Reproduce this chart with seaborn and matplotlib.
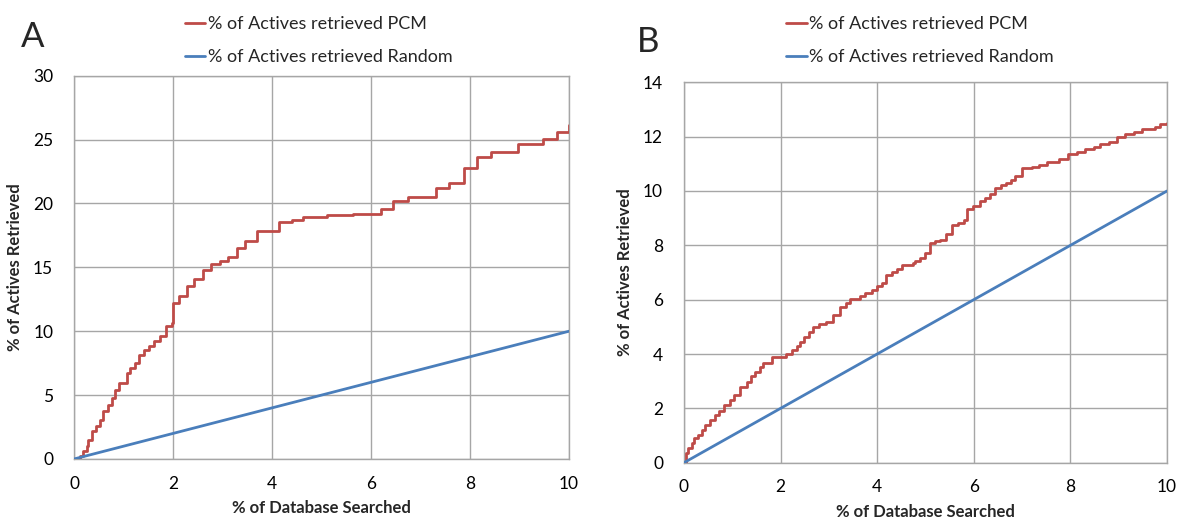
import numpy as np
import pandas as pd
import matplotlib
matplotlib.use("Agg")
import matplotlib.pyplot as plt
import seaborn as sns
from matplotlib.lines import Line2D

# ---- Data ----
a_pcm_x = [0, 0.12, 0.19, 0.26, 0.29, 0.36, 0.44, 0.53, 0.59, 0.69, 0.76, 0.83, 0.90,
           1.06, 1.13, 1.23, 1.32, 1.41, 1.52, 1.62, 1.74, 1.86, 1.97, 1.99, 2.13, 2.28,
           2.42, 2.60, 2.76, 2.95, 3.12, 3.29, 3.45, 3.69, 4.14, 4.40, 4.63, 5.12, 5.63,
           6.20, 6.45, 6.75, 7.31, 7.58, 7.87, 8.13, 8.42, 8.96, 9.47, 9.75, 10.0]
a_pcm_y = [0, 0.21, 0.60, 0.99, 1.51, 2.16, 2.55, 3.08, 3.73, 4.25, 4.77, 5.42, 5.94,
           6.72, 7.11, 7.51, 8.16, 8.55, 8.81, 9.20, 9.64, 10.37, 10.63, 12.20, 12.77, 13.55,
           14.10, 14.75, 15.27, 15.51, 15.79, 16.50, 17.02, 17.88, 18.53, 18.71, 18.90, 19.08, 19.18,
           19.57, 20.22, 20.54, 21.24, 21.58, 22.80, 23.61, 24.00, 24.65, 25.02, 25.57, 26.1]

b_pcm_x = [0, 0.04, 0.09, 0.16, 0.21, 0.30, 0.37, 0.44, 0.54, 0.64, 0.73, 0.83, 0.95,
           1.04, 1.15, 1.31, 1.38, 1.48, 1.57, 1.64, 1.82, 2.11, 2.23, 2.33, 2.40, 2.49,
           2.59, 2.68, 2.80, 2.94, 3.09, 3.23, 3.36, 3.43, 3.65, 3.75, 3.89, 3.99, 4.10,
           4.19, 4.30, 4.41, 4.51, 4.74, 4.79, 4.89, 4.99, 5.10, 5.20, 5.30, 5.43, 5.55,
           5.68, 5.79, 5.87, 5.99, 6.12, 6.24, 6.34, 6.44, 6.56, 6.67, 6.77, 6.86, 6.99,
           7.20, 7.34, 7.51, 7.76, 7.96, 8.14, 8.31, 8.48, 8.62, 8.79, 8.96, 9.14, 9.31,
           9.48, 9.76, 9.86, 10.0]
b_pcm_y = [0, 0.34, 0.53, 0.71, 0.90, 1.02, 1.20, 1.39, 1.57, 1.75, 1.91, 2.12, 2.31,
           2.49, 2.80, 2.98, 3.19, 3.35, 3.51, 3.66, 3.90, 4.00, 4.15, 4.29, 4.45, 4.64,
           4.82, 4.98, 5.10, 5.19, 5.44, 5.72, 5.87, 6.04, 6.13, 6.26, 6.36, 6.50, 6.60,
           6.91, 7.03, 7.13, 7.28, 7.34, 7.44, 7.52, 7.73, 8.07, 8.16, 8.20, 8.42, 8.75,
           8.81, 8.93, 9.33, 9.45, 9.63, 9.73, 9.89, 10.10, 10.23, 10.31, 10.40, 10.55, 10.83,
           10.90, 10.96, 11.08, 11.17, 11.36, 11.45, 11.53, 11.63, 11.73, 11.82, 12.00, 12.10, 12.18,
           12.27, 12.37, 12.45, 12.49]

random_x = [0, 10]
random_y = [0, 10]

x_ticks = [0, 2, 4, 6, 8, 10]
a_y_ticks = [0, 5, 10, 15, 20, 25, 30]
b_y_ticks = [0, 2, 4, 6, 8, 10, 12, 14]

pcm_label = "% of Actives retrieved PCM"
rand_label = "% of Actives retrieved Random"
x_label = "% of Database Searched"
y_label = "% of Actives Retrieved"

RED = "#BE4B48"
BLUE = "#4A7EBB"
GRID = "#A6A6A6"

sns.set_style("white")
plt.rcParams['font.family'] = ['Lato', 'DejaVu Sans']

fig = plt.figure(figsize=(11.77, 5.23), dpi=100)
axA = fig.add_axes([0.0629, 0.1224, 0.4206, 0.733])
axB = fig.add_axes([0.5811, 0.1153, 0.4104, 0.7273])


def draw(ax, px, py, yticks, ylim):
    dfp = pd.DataFrame({"x": px, "y": py})
    dfr = pd.DataFrame({"x": random_x, "y": random_y})
    sns.lineplot(data=dfp, x="x", y="y", ax=ax, color=RED, lw=2.0,
                 drawstyle="steps-post", sort=False, estimator=None, zorder=3)
    sns.lineplot(data=dfr, x="x", y="y", ax=ax, color=BLUE, lw=2.0,
                 sort=False, estimator=None, zorder=3)
    ax.set_xlim(0, 10)
    ax.set_ylim(*ylim)
    ax.set_xticks(x_ticks)
    ax.set_yticks(yticks)
    ax.grid(True, color=GRID, lw=1.0, zorder=0)
    ax.set_axisbelow(True)
    for s in ax.spines.values():
        s.set_color(GRID)
        s.set_linewidth(1.0)
    ax.tick_params(axis="both", which="both", direction="out", length=6,
                   color=GRID, labelsize=12.5, labelcolor="#000000")
    ax.tick_params(axis="y", pad=9)
    ax.tick_params(axis="x", pad=6)
    ax.set_xlabel(x_label, fontsize=12, fontweight="bold", labelpad=6)
    ax.set_ylabel(y_label, fontsize=12, fontweight="bold", labelpad=7)


draw(axA, a_pcm_x, a_pcm_y, a_y_ticks, (0, 30))
draw(axB, b_pcm_x, b_pcm_y, b_y_ticks, (0, 14))

# Legends (figure-level entries, one above each panel)
for xl in [0.143, 0.654]:
    handles = [Line2D([0], [0], color=RED, lw=2), Line2D([0], [0], color=BLUE, lw=2)]
    fig.legend(handles, [pcm_label, rand_label], loc="upper left",
               bbox_to_anchor=(xl, 1.0), frameon=False, fontsize=13,
               handlelength=1.15, handletextpad=0.15, labelspacing=0.95)

fig.text(0.018, 0.93, "A", fontsize=25, va="center", ha="left")
fig.text(0.541, 0.92, "B", fontsize=25, va="center", ha="left")

fig.savefig("out.png", dpi=100)
